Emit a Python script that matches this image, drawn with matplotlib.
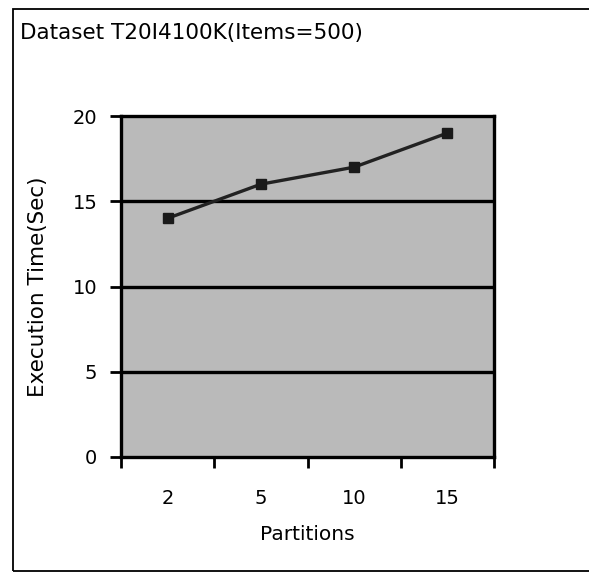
import matplotlib
matplotlib.use('Agg')
import matplotlib.pyplot as plt
from matplotlib.patches import Rectangle

# execution time per number of partitions
partitions = ['2', '5', '10', '15']
exec_time = [14, 16, 17, 19]
y_ticks = [0, 5, 10, 15, 20]

plt.rcParams['font.family'] = ['DejaVu Sans']

fig = plt.figure(figsize=(5.89, 5.73), dpi=100)
fig.patch.set_facecolor('white')

# outer chart frame
frame = Rectangle((13 / 589, 1 - 571 / 573), 1.2, 562 / 573,
                  transform=fig.transFigure, fill=False,
                  edgecolor='black', linewidth=1.3, clip_on=False)
fig.add_artist(frame)

fig.text(20 / 589, 1 - 33 / 573, 'Dataset T20I4100K(Items=500)',
         fontsize=15.5, ha='left', va='center')

ax = fig.add_axes([121 / 589, 116 / 573, 373 / 589, 341 / 573])
ax.set_facecolor('#bababa')

x = range(len(partitions))
ax.plot(x, exec_time, color='#222222', linewidth=2.4,
        marker='s', markersize=7.5, markerfacecolor='#1a1a1a',
        markeredgecolor='#1a1a1a', zorder=3)

ax.set_xlim(-0.5, len(partitions) - 0.5)
ax.set_ylim(0, 20)

ax.set_yticks(y_ticks)
ax.set_yticklabels([str(v) for v in y_ticks], fontsize=14)
for v in y_ticks[1:-1]:
    ax.axhline(v, color='black', linewidth=2.4, zorder=2)

# category labels sit between tick marks
ax.set_xticks([i - 0.5 for i in range(len(partitions) + 1)])
ax.set_xticklabels([])
ax.set_xticks(list(x), minor=True)
ax.set_xticklabels(partitions, minor=True, fontsize=14)
ax.tick_params(axis='x', which='minor', length=0, pad=23)
ax.tick_params(axis='x', which='major', length=8, width=2, direction='out')
ax.tick_params(axis='y', length=8, width=2, direction='out', pad=9)

for s in ax.spines.values():
    s.set_linewidth(2.4)
    s.set_color('black')

ax.set_xlabel('Partitions', fontsize=14.5, labelpad=12)
ax.set_ylabel('Execution Time(Sec)', fontsize=15.5, labelpad=18)

fig.savefig('out.png', dpi=100)
